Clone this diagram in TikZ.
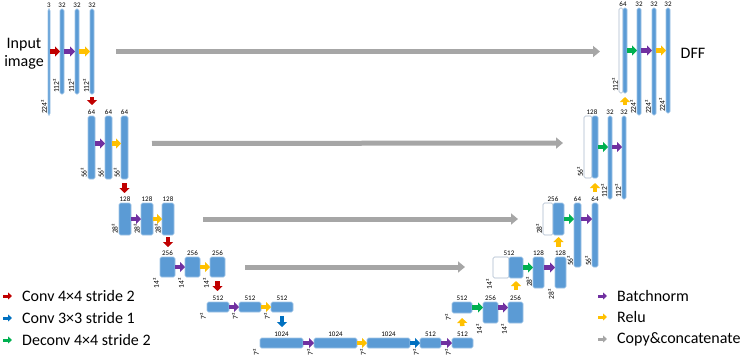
\documentclass[tikz,border=0pt]{standalone}
\usepackage{fontspec}
\setmainfont{Carlito}
\usetikzlibrary{positioning,arrows.meta}
\definecolor{bxf}{HTML}{5B9BD5}
\definecolor{bxd}{HTML}{9DC3E6}
\definecolor{wbd}{HTML}{A9B9CC}
\definecolor{cred}{HTML}{C00000}
\definecolor{cblu}{HTML}{0070C0}
\definecolor{cgrn}{HTML}{00B050}
\definecolor{cpur}{HTML}{7030A0}
\definecolor{cyel}{HTML}{FFC000}
\definecolor{cgry}{HTML}{A6A6A6}

\begin{document}
\begin{tikzpicture}[
  x=1pt, y=-1pt,
  font=\fontsize{7}{8}\selectfont,
  bx/.style={draw=bxd, fill=bxf, line width=0.6pt, rounded corners=1.5pt, inner sep=0pt, outer sep=0pt, anchor=north west},
  wbx/.style={draw=wbd, fill=white, line width=0.6pt, rounded corners=1.5pt, inner sep=0pt, outer sep=0pt, anchor=north west},
  num/.style={inner sep=1pt},
  dimup/.style={rotate=90, anchor=south west, inner sep=1pt, font=\fontsize{7.5}{8}\selectfont},
  dimdn/.style={rotate=90, anchor=south east, inner sep=1pt, font=\fontsize{7.5}{8}\selectfont},
  >={Triangle[length=5pt,width=10pt]},
  blk/.style={->, line width=4.5pt},
  cv/.style={blk, draw=cred},
  cvt/.style={blk, draw=cblu},
  dcv/.style={blk, draw=cgrn},
  bn/.style={blk, draw=cpur},
  rl/.style={blk, draw=cyel},
  cp/.style={-{Triangle[length=7pt,width=11pt]}, line width=5pt, draw=cgry},
  lgd/.style={-{Triangle[length=4pt,width=7pt]}, line width=3pt},
  txt/.style={font=\fontsize{16}{18}\selectfont, inner sep=0pt}
]
\useasboundingbox (0,0) rectangle (747,360);

% ---------------------------------------------------------------- encoder
% 224 x 224
\node[bx, minimum width=2pt, minimum height=106pt] (l1in) at (48,9) {};
\node[bx, minimum width=4pt, minimum height=85pt, right=10pt of l1in.north east, anchor=north west] (l1a) {};
\node[bx, minimum width=4pt, minimum height=85pt, right=11pt of l1a.north east, anchor=north west] (l1b) {};
\node[bx, minimum width=4pt, minimum height=85pt, right=11pt of l1b.north east, anchor=north west] (l1c) {};
\draw[cv] (l1in.east |- l1a) -- (l1a.west);
\draw[bn] (l1a.east) -- (l1b.west);
\draw[rl] (l1b.east) -- (l1c.west);
\node[txt, align=center] (inp) at (24,54) {Input\\image};

% 56 x 56
\node[bx, minimum width=7pt, minimum height=63pt] (l2a) at (88,116) {};
\node[bx, minimum width=7pt, minimum height=63pt, right=10pt of l2a.north east, anchor=north west] (l2b) {};
\node[bx, minimum width=7pt, minimum height=63pt, right=9pt of l2b.north east, anchor=north west] (l2c) {};
\draw[bn] ([yshift=4pt]l2a.east) -- ([yshift=4pt]l2b.west);
\draw[rl] ([yshift=4pt]l2b.east) -- ([yshift=4pt]l2c.west);

% 28 x 28
\node[bx, minimum width=12pt, minimum height=32pt] (l3a) at (119,203) {};
\node[bx, minimum width=12pt, minimum height=32pt, right=10pt of l3a.north east, anchor=north west] (l3b) {};
\node[bx, minimum width=12pt, minimum height=32pt, right=9pt of l3b.north east, anchor=north west] (l3c) {};
\draw[bn] (l3a.east) -- (l3b.west);
\draw[rl] (l3b.east) -- (l3c.west);

% 14 x 14
\node[bx, minimum width=15pt, minimum height=20pt] (l4a) at (160,257) {};
\node[bx, minimum width=15pt, minimum height=20pt, right=10pt of l4a.north east, anchor=north west] (l4b) {};
\node[bx, minimum width=15pt, minimum height=20pt, right=10pt of l4b.north east, anchor=north west] (l4c) {};
\draw[bn] (l4a.east) -- (l4b.west);
\draw[rl] (l4b.east) -- (l4c.west);

% 7 x 7
\node[bx, minimum width=22pt, minimum height=10pt] (l5a) at (207,302) {};
\node[bx, minimum width=22pt, minimum height=10pt, right=10pt of l5a.north east, anchor=north west] (l5b) {};
\node[bx, minimum width=22pt, minimum height=10pt, right=10pt of l5b.north east, anchor=north west] (l5c) {};
\draw[bn] (l5a.east) -- (l5b.west);
\draw[rl] (l5b.east) -- (l5c.west);

% downsampling
\draw[cv, shorten <=3pt, shorten >=11pt] (l1c.south) -- (l1c.south |- l2a.north);
\draw[cv, shorten <=4pt, shorten >=10pt] (l2c.south) -- (l2c.south |- l3a.north);
\draw[cv, shorten <=2pt, shorten >=10pt] (l3c.south) -- (l3c.south |- l4a.north);
\draw[cv, shorten <=4pt, shorten >=11pt] (l4c.south) -- (l4c.south |- l5a.north);

% ---------------------------------------------------------------- bottleneck
\node[bx, minimum width=43pt, minimum height=10pt] (b1) at (260,338) {};
\node[bx, minimum width=43pt, minimum height=10pt, right=11pt of b1.north east, anchor=north west] (b2) {};
\node[bx, minimum width=43pt, minimum height=10pt, right=10pt of b2.north east, anchor=north west] (b3) {};
\node[bx, minimum width=21pt, minimum height=10pt, right=10pt of b3.north east, anchor=north west] (b4) {};
\node[bx, minimum width=21pt, minimum height=10pt, right=11pt of b4.north east, anchor=north west] (b5) {};
\draw[cvt, shorten <=4pt, shorten >=11pt] (l5c.south) -- (l5c.south |- b1.north);
\draw[bn] (b1.east) -- (b2.west);
\draw[rl] (b2.east) -- (b3.west);
\draw[cvt] (b3.east) -- (b4.west);
\draw[bn] (b4.east) -- (b5.west);

% ---------------------------------------------------------------- decoder
% 7 x 7 -> 14 x 14
\node[bx, minimum width=20pt, minimum height=11pt] (r5a) at (452,302) {};
\node[bx, minimum width=15pt, minimum height=21pt, right=11pt of r5a.north east, anchor=north west] (r5b) {};
\node[bx, minimum width=15pt, minimum height=21pt, right=10pt of r5b.north east, anchor=north west] (r5c) {};
\draw[rl, shorten <=12pt, shorten >=5pt] (b5.north) -- (r5a.south);
\draw[dcv] (r5a.east) -- (r5a.east -| r5b.west);
\draw[bn] (r5a.east -| r5b.east) -- (r5a.east -| r5c.west);

% 14 x 14 -> 28 x 28
\node[wbx, minimum width=16pt, minimum height=21pt] (r4w) at (493,257) {};
\node[bx, minimum width=14pt, minimum height=21pt, right=0pt of r4w.north east, anchor=north west] (r4b) {};
\node[bx, minimum width=11pt, minimum height=31pt, right=10pt of r4b.north east, anchor=north west] (r4c) {};
\node[bx, minimum width=11pt, minimum height=31pt, right=11pt of r4c.north east, anchor=north west] (r4d) {};
\draw[rl, shorten <=12pt, shorten >=3pt] (r4b.south |- r5c.north) -- (r4b.south);
\draw[dcv] (r4b.east) -- (r4b.east -| r4c.west);
\draw[bn] (r4b.east -| r4c.east) -- (r4b.east -| r4d.west);

% 28 x 28 -> 56 x 56
\node[wbx, minimum width=10pt, minimum height=32pt] (r3w) at (543,203) {};
\node[bx, minimum width=11pt, minimum height=32pt, right=0pt of r3w.north east, anchor=north west] (r3b) {};
\node[bx, minimum width=7pt, minimum height=64pt, right=10pt of r3b.north east, anchor=north west] (r3c) {};
\node[bx, minimum width=6pt, minimum height=64pt, right=11pt of r3c.north east, anchor=north west] (r3d) {};
\draw[rl, shorten <=10pt, shorten >=2pt] (r3b.south |- r4d.north) -- (r3b.south);
\draw[dcv] (r3b.east) -- (r3b.east -| r3c.west);
\draw[bn] (r3b.east -| r3c.east) -- (r3b.east -| r3d.west);

% 56 x 56 -> 112 x 112
\node[wbx, minimum width=8pt, minimum height=62pt] (r2w) at (584,116) {};
\node[bx, minimum width=6pt, minimum height=62pt, right=0pt of r2w.north east, anchor=north west] (r2b) {};
\node[bx, minimum width=4pt, minimum height=83pt, right=10pt of r2b.north east, anchor=north west] (r2c) {};
\node[bx, minimum width=4pt, minimum height=83pt, right=10pt of r2c.north east, anchor=north west] (r2d) {};
\draw[rl, shorten <=11pt, shorten >=5pt] (r2b.south |- r3d.north) -- (r2b.south);
\draw[dcv] (r2b.east) -- (r2b.east -| r2c.west);
\draw[bn] (r2b.east -| r2c.east) -- (r2b.east -| r2d.west);

% 112 x 112 -> 224 x 224
\node[wbx, minimum width=4pt, minimum height=85pt] (r1w) at (619,8) {};
\node[bx, minimum width=4pt, minimum height=85pt, right=0pt of r1w.north east, anchor=north west] (r1b) {};
\node[bx, minimum width=4pt, minimum height=107pt, right=10pt of r1b.north east, anchor=north west] (r1c) {};
\node[bx, minimum width=4pt, minimum height=107pt, right=11pt of r1c.north east, anchor=north west] (r1d) {};
\node[bx, minimum width=4pt, minimum height=105pt, right=10pt of r1d.north east, anchor=north west] (r1e) {};
\draw[rl, shorten <=11pt, shorten >=4pt] (r1b.south |- r2d.north) -- (r1b.south);
\draw[dcv] (r1b.east) -- (r1b.east -| r1c.west);
\draw[bn] (r1b.east -| r1c.east) -- (r1b.east -| r1d.west);
\draw[rl] (r1b.east -| r1d.east) -- (r1b.east -| r1e.west);
\node[txt] (dff) at (693,53) {DFF};

% ---------------------------------------------------------------- skip connections
\draw[cp, shorten <=22pt, shorten >=19pt] (l1c.east) -- (l1c.east -| r1w.west);
\draw[cp, shorten <=24pt, shorten >=21pt] ([yshift=4pt]l2c.east) -- ([yshift=4pt]r2w.west);
\draw[cp, shorten <=29pt, shorten >=25pt] (l3c.east) -- (l3c.east -| r3w.west);
\draw[cp, shorten <=20pt, shorten >=28pt] (l4c.east) -- (l4c.east -| r4w.west);

% ---------------------------------------------------------------- channels
\node[num, above=0pt of l1in] {3};
\foreach \b in {l1a,l1b,l1c,r1c,r1d,r1e,r2c,r2d} \node[num, above=0pt of \b] {32};
\foreach \b in {l2a,l2b,l2c,r3c,r3d} \node[num, above=0pt of \b] {64};
\foreach \b in {l3a,l3b,l3c,r4c,r4d} \node[num, above=0pt of \b] {128};
\foreach \b in {l4a,l4b,l4c,r5b,r5c} \node[num, above=0pt of \b] {256};
\foreach \b in {l5a,l5b,l5c,b4,b5,r5a} \node[num, above=0pt of \b] {512};
\foreach \b in {b1,b2,b3} \node[num, above=0pt of \b] {1024};
\node[num, above=0pt of r1w.north east] {64};
\node[num, above=0pt of r2w.north east] {128};
\node[num, above=0pt of r3w.north east] {256};
\node[num, above=0pt of r4w.north east] {512};

% ---------------------------------------------------------------- sizes
\node[dimup] at (l1in.south west) {224²};
\foreach \b in {r1c,r1d,r1e} \node[dimup] at (\b.south west) {224²};
\foreach \b in {l1a,l1b,l1c,r1w,r2c,r2d} \node[dimup] at (\b.south west) {112²};
\foreach \b in {l2a,l2b,l2c,r2w,r3c,r3d} \node[dimup] at (\b.south west) {56²};
\foreach \b in {l3a,l3b,l3c,r3w,r4c} \node[dimup] at (\b.south west) {28²};
\node[dimdn] at (r4d.south west) {28²};
\foreach \b in {l4a,l4b,l4c,r4w,r5b,r5c} \node[dimdn] at (\b.south west) {14²};
\foreach \b in {l5a,l5b,l5c,b1,b2,b3,b4,b5,r5a} \node[dimdn] at (\b.south west) {7²};

% ---------------------------------------------------------------- legend
\node[txt, anchor=west] (lg1) at (22,296) {Conv 4×4 stride 2};
\node[txt, anchor=west] (lg2) at (22,318) {Conv 3×3 stride 1};
\node[txt, anchor=west] (lg3) at (22,340) {Deconv 4×4 stride 2};
\node[txt, anchor=west] (lg4) at (617,296) {Batchnorm};
\node[txt, anchor=west] (lg5) at (617,317) {Relu};
\node[txt, anchor=west] (lg6) at (617,339) {Copy\&concatenate};
\draw[lgd, draw=cred] ([xshift=-19pt]lg1.west) -- ([xshift=-10pt]lg1.west);
\draw[lgd, draw=cblu] ([xshift=-19pt]lg2.west) -- ([xshift=-10pt]lg2.west);
\draw[lgd, draw=cgrn] ([xshift=-19pt]lg3.west) -- ([xshift=-10pt]lg3.west);
\draw[lgd, draw=cpur] ([xshift=-19pt]lg4.west) -- ([xshift=-10pt]lg4.west);
\draw[lgd, draw=cyel] ([xshift=-19pt]lg5.west) -- ([xshift=-10pt]lg5.west);
\draw[lgd, draw=cgry] ([xshift=-19pt]lg6.west) -- ([xshift=-10pt]lg6.west);
\end{tikzpicture}
\end{document}
